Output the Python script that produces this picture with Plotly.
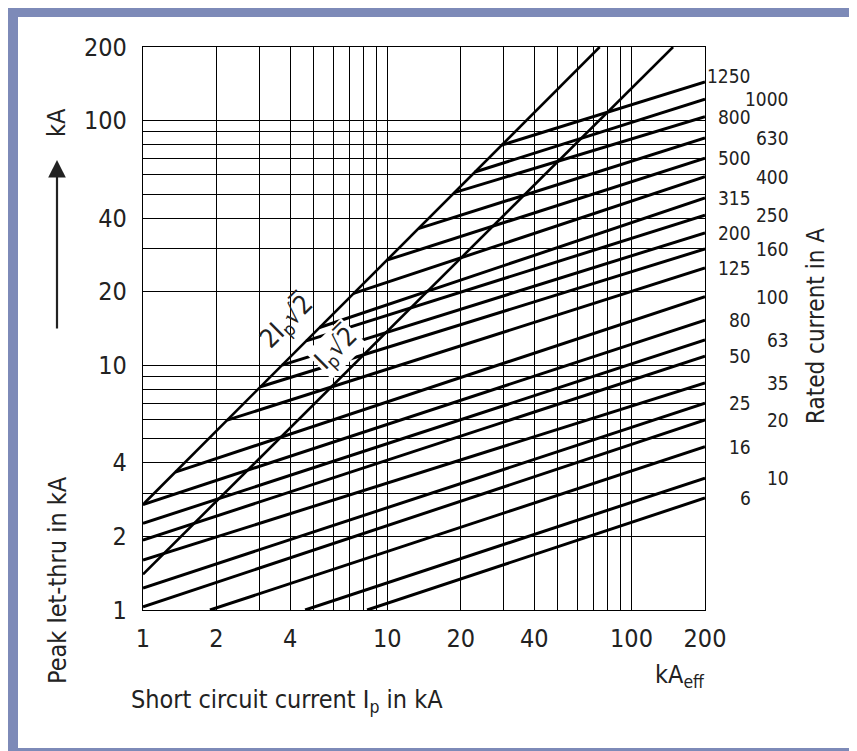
import math
import plotly.graph_objects as go

# ---------------- data ----------------
ratings = [6, 10, 16, 20, 25, 35, 50, 63, 80, 100, 125, 160, 200, 250, 315,
           400, 500, 630, 800, 1000, 1250]
start_x = [8.27, 4.61, 1.88, 1.0, 1.0, 1.0, 1.0, 1.0, 1.0, 1.356, 2.211, 3.026,
           3.711, 4.659, 5.285, 7.285, 9.963, 13.41, 18.81, 22.85, 29.4]
start_y = [1.0, 1.0, 1.0, 1.03, 1.23, 1.60, 1.93, 2.26, 2.70, 3.66, 5.97, 8.17,
           10.02, 12.58, 14.27, 19.67, 26.9, 36.2, 50.8, 61.7, 79.4]
end_x = [200] * 21
end_y = [2.87, 3.46, 4.65, 5.98, 7.0, 8.47, 10.9, 12.7, 15.3, 19.1, 25.0, 29.9,
         34.8, 41.1, 48.3, 59.0, 70.3, 84.9, 103.8, 122.5, 144.0]

peak2_x = [1.0, 74.1]      # 2·Ip·√2 line
peak2_y = [2.70, 200.0]
peak1_x = [1.0, 148.0]     # Ip·√2 line
peak1_y = [1.40, 200.0]

grid_vals = [1, 2, 3, 4, 5, 6, 7, 8, 9, 10, 20, 30, 40, 50, 60, 70, 80, 90, 100, 200]
labeled = [1, 2, 4, 10, 20, 40, 100, 200]

# ---------------- layout geometry ----------------
OFF = 8                          # page body margin of the html
W, H = 857 - OFF, 751 - OFF
L, R, T, B = 143, 705, 47, 610   # plot area in page pixels


def px(p):
    return (p - L) / (R - L)


def py(p):
    return (B - p) / (B - T)


FONT = "DejaVu Sans Condensed, Liberation Sans Narrow, Roboto Condensed, Arial Narrow, DejaVu Sans"
FRAME = "#7D8AB8"
TXT = "#222"

fig = go.Figure()

for r, x0, y0, x1, y1 in zip(ratings, start_x, start_y, end_x, end_y):
    fig.add_trace(go.Scatter(x=[x0, x1], y=[y0, y1], mode="lines",
                             line=dict(color="black", width=3),
                             hoverinfo="skip", showlegend=False, name=f"{r} A"))

fig.add_trace(go.Scatter(x=peak2_x, y=peak2_y, mode="lines",
                         line=dict(color="black", width=2.6),
                         hoverinfo="skip", showlegend=False))
fig.add_trace(go.Scatter(x=peak1_x, y=peak1_y, mode="lines",
                         line=dict(color="black", width=2.6),
                         hoverinfo="skip", showlegend=False))

ticktext = [str(v) if v in labeled else "" for v in grid_vals]
axis_common = dict(type="log", tickvals=grid_vals, ticktext=ticktext,
                   showgrid=True, gridcolor="black", gridwidth=1.2,
                   showline=True, linecolor="black", linewidth=1.4, mirror=True,
                   zeroline=False, ticks="", tickfont=dict(family=FONT, size=25, color=TXT),
                   range=[0, math.log10(200)])
fig.update_xaxes(**axis_common, ticklabelstandoff=6)
fig.update_yaxes(**axis_common, ticklabelstandoff=10)

ann = []
# rated current labels
for i, (r, y1) in enumerate(zip(ratings, end_y)):
    xr = px(753) if i % 2 == 0 else px(791)
    ann.append(dict(x=xr, xref="paper", xanchor="right", y=math.log10(y1), yref="y",
                    yanchor="middle", text=str(r), showarrow=False,
                    yshift=6 if r == 1250 else 0,
                    font=dict(family=FONT, size=19, color=TXT)))


def text_ann(x, y, text, size, angle=0, **kw):
    d = dict(x=px(x), y=py(y), xref="paper", yref="paper", xanchor="center",
             yanchor="middle", text=text, textangle=angle, showarrow=False,
             font=dict(family=FONT, size=size, color=TXT))
    d.update(kw)
    return d


ann += [
    text_ann(57, 580, "Peak let-thru in kA", 25, -90),
    text_ann(57, 123, "kA", 25, -90),
    text_ann(816, 326, "Rated current in A", 24, -90),
    text_ann(287, 701, "Short circuit current I<sub>p</sub> in kA", 25),
    text_ann(680, 676, "kA<sub>eff</sub>", 25),
    text_ann(287, 322, "2I<sub>p</sub>√2̅", 26, -45),
    text_ann(336, 349, "I<sub>p</sub>√2̅", 26, -45, bgcolor="white"),
    dict(x=px(57), y=py(160), xref="paper", yref="paper", text="", showarrow=True,
         ax=0, ay=170, arrowhead=2, arrowsize=1.6, arrowwidth=2.2, arrowcolor=TXT),
]


def band(x0, x1, y0, y1):
    return dict(type="rect", xref="paper", yref="paper",
                x0=px(x0), x1=px(x1), y0=py(y0), y1=py(y1),
                line=dict(width=0), fillcolor=FRAME, layer="below")


shapes = [
    band(8, 857, 7, 17),     # top
    band(8, 18, 7, 751),     # left
    band(8, 857, 748, 751),  # bottom
]

fig.update_layout(width=W, height=H,
                  margin=dict(l=L - OFF, r=(W + OFF) - R, t=T - OFF, b=(H + OFF) - B),
                  paper_bgcolor="white", plot_bgcolor="white",
                  annotations=ann, shapes=shapes, showlegend=False)

fig.write_html("out.html")
